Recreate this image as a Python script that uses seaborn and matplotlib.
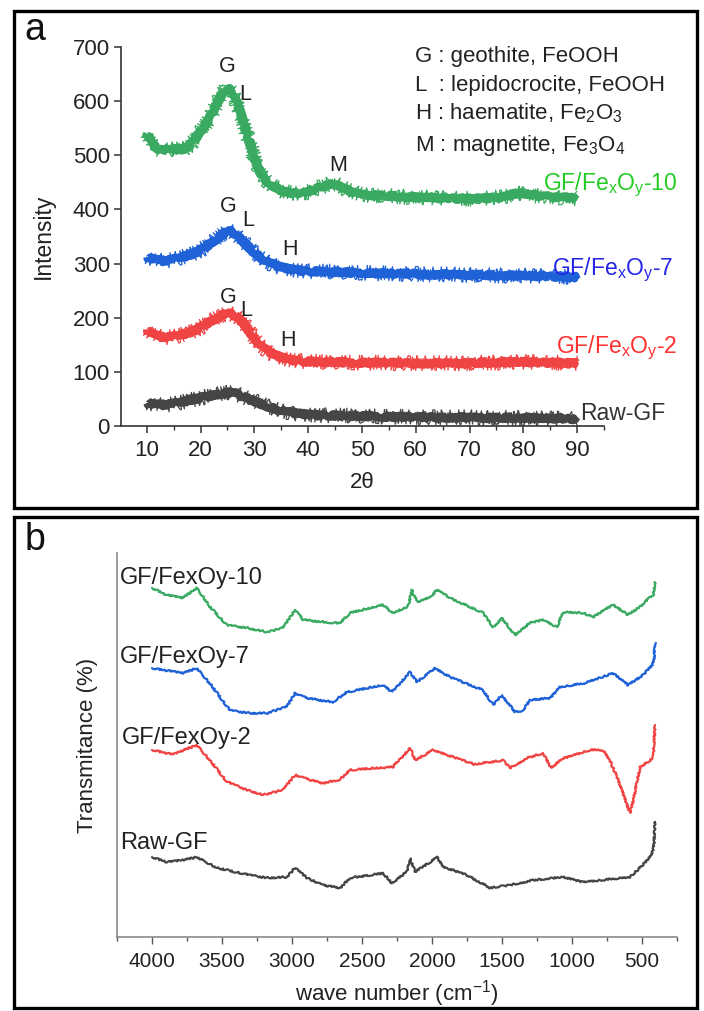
import matplotlib
matplotlib.use("Agg")
import matplotlib.pyplot as plt
from matplotlib.patches import Rectangle
from matplotlib.ticker import MultipleLocator
import pandas as pd
import seaborn as sns

# ---------------- XRD data (panel a) ----------------
two_theta = list(range(10, 91))

xrd_raw = [42, 40, 39, 39, 40, 41, 43, 45, 48, 50,
           52, 54, 56, 58, 60, 62, 62, 58, 54, 50,
           46, 42, 38, 34, 31, 28, 26, 24, 23, 22,
           21, 21, 20, 20, 20, 19, 19, 19, 19, 18,
           18, 18, 18, 18, 17, 17, 17, 17, 17, 17,
           16, 16, 16, 16, 16, 16, 16, 16, 16, 16,
           16, 16, 15, 15, 15, 15, 15, 15, 15, 15,
           15, 15, 15, 14, 14, 14, 14, 14, 13, 13, 13]

xrd_fe2 = [178, 170, 166, 164, 164, 165, 167, 170, 173, 177,
           182, 188, 194, 200, 205, 208, 206, 200, 190, 176,
           162, 150, 142, 135, 130, 127, 124, 122, 121, 120,
           119, 119, 118, 118, 118, 118, 118, 117, 117, 117,
           117, 117, 117, 117, 117, 117, 116, 116, 116, 116,
           116, 116, 116, 116, 116, 116, 116, 116, 116, 116,
           116, 116, 117, 117, 117, 117, 118, 118, 118, 118,
           118, 118, 118, 117, 117, 117, 117, 117, 116, 116, 116]

xrd_fe7 = [312, 308, 306, 305, 306, 308, 310, 313, 316, 320,
           325, 331, 338, 346, 354, 360, 358, 350, 340, 330,
           320, 312, 305, 300, 296, 293, 291, 289, 288, 287,
           286, 286, 285, 285, 285, 284, 284, 284, 283, 283,
           283, 283, 282, 282, 282, 282, 281, 281, 281, 281,
           281, 280, 280, 280, 280, 280, 280, 280, 279, 279,
           279, 279, 279, 279, 278, 278, 278, 278, 278, 278,
           278, 277, 277, 277, 277, 276, 276, 276, 276, 275, 275]

xrd_fe10 = [540, 520, 512, 508, 510, 512, 510, 512, 518, 530,
            545, 558, 575, 595, 615, 625, 615, 590, 560, 528,
            495, 470, 455, 447, 440, 435, 432, 430, 430, 430,
            432, 436, 440, 444, 447, 448, 443, 437, 433, 430,
            428, 427, 426, 426, 425, 425, 424, 424, 423, 423,
            423, 422, 422, 422, 421, 421, 421, 420, 420, 420,
            420, 420, 420, 421, 421, 422, 423, 425, 428, 430,
            430, 428, 426, 425, 424, 424, 423, 422, 422, 421, 421]

xrd_names = ["Raw-GF", "GF/Fe$_x$O$_y$-2", "GF/Fe$_x$O$_y$-7", "GF/Fe$_x$O$_y$-10"]

# ---------------- FTIR data (panel b) ----------------
ftir_fe10_wn = [4000, 3893, 3780, 3680, 3586, 3464, 3321, 3179, 3064, 2979,
                2920, 2707, 2657, 2586, 2350, 2286, 2171, 2143, 2107, 2014,
                1964, 1871, 1636, 1564, 1500, 1407, 1300, 1207, 1107, 1064,
                921, 850, 707, 600, 514, 443, 420, 407]
ftir_fe10 = [90.9, 89.0, 88.3, 90.9, 86.0, 81.2, 80.5, 79.4, 80.5, 85.2,
             82.6, 81.8, 81.8, 84.4, 86.5, 84.4, 86.0, 90.4, 87.2, 88.5,
             90.4, 88.3, 84.4, 80.7, 83.0, 78.6, 81.8, 82.6, 80.7, 84.6,
             84.4, 83.3, 86.5, 83.9, 86.0, 88.5, 89.0, 92.4]

ftir_fe7_wn = [4000, 3780, 3680, 3586, 3443, 3300, 3179, 3036, 2979, 2893,
               2707, 2607, 2350, 2286, 2157, 2107, 1979, 1871, 1636, 1564,
               1500, 1407, 1350, 1300, 1157, 1086, 921, 707, 600, 493,
               429, 415, 407]
ftir_fe7 = [70.0, 68.7, 70.0, 66.0, 59.0, 58.3, 58.3, 60.0, 63.5, 62.2,
            61.2, 63.8, 65.6, 63.8, 69.0, 66.4, 70.0, 67.7, 64.3, 60.4,
            63.0, 58.6, 59.0, 61.7, 62.2, 65.1, 66.0, 68.7, 65.6, 68.2,
            70.8, 72.0, 76.6]

ftir_fe2_wn = [4000, 3850, 3680, 3586, 3464, 3321, 3207, 3064, 2979, 2871,
               2779, 2657, 2586, 2279, 2157, 2120, 1993, 1700, 1493, 1443,
               1321, 1207, 1150, 1064, 871, 779, 729, 679, 586, 560,
               514, 443, 420, 407]
ftir_fe2 = [48.7, 47.5, 50.0, 46.0, 40.4, 38.3, 37.0, 38.3, 42.2, 40.9,
            40.1, 41.0, 43.5, 44.3, 49.2, 46.0, 48.7, 45.0, 46.0, 44.0,
            46.6, 47.9, 44.0, 46.5, 48.7, 48.7, 46.0, 41.7, 32.3, 36.0,
            44.3, 46.0, 47.0, 55.2]

ftir_raw_wn = [4000, 3893, 3780, 3680, 3536, 3300, 3179, 3036, 2979, 2893,
               2779, 2657, 2586, 2350, 2286, 2179, 2157, 2121, 2014, 1964,
               1921, 1750, 1586, 1443, 1279, 1064, 921, 586, 493, 429,
               415, 407]
ftir_raw = [20.8, 19.5, 20.0, 20.8, 18.0, 16.1, 15.4, 15.6, 18.0, 15.4,
            13.5, 12.8, 15.4, 16.6, 14.0, 17.0, 20.5, 17.0, 19.5, 20.8,
            18.3, 16.1, 12.8, 13.5, 14.8, 15.6, 14.3, 15.6, 18.8, 21.4,
            24.0, 30.0]

ftir_names = ["GF/FexOy-10", "GF/FexOy-7", "GF/FexOy-2", "Raw-GF"]

# ---------------- style ----------------
sns.set_style("ticks")
plt.rcParams["font.family"] = ["Liberation Sans", "DejaVu Sans"]
plt.rcParams["mathtext.fontset"] = "custom"
plt.rcParams["mathtext.rm"] = "Liberation Sans"
plt.rcParams["mathtext.it"] = "Liberation Sans"
plt.rcParams["mathtext.default"] = "regular"

c_green = "#3aaa62"
c_blue = "#1f62d8"
c_red = "#f04444"
c_gray = "#454545"
lbl_green = "#22cc22"
lbl_blue = "#2626e6"
lbl_red = "#ff3030"
txt_dark = "#222222"

W, H = 704, 1011
fig = plt.figure(figsize=(W / 100, H / 100), dpi=100)


def fx(px):
    return px / W


def fy(py):
    return 1 - py / H


# panel frames
for (x0, y0, x1, y1) in [(14, 11, 697, 508), (14, 517, 697, 1008)]:
    fig.patches.append(Rectangle((fx(x0), fy(y1)), fx(x1 - x0), (y1 - y0) / H,
                                 transform=fig.transFigure, fill=False,
                                 edgecolor="black", linewidth=2.4))

# ---------------- panel a ----------------
ax_a = fig.add_axes([fx(121), fy(426), fx(604 - 121), (426 - 47) / H])
xrd = pd.DataFrame({"two_theta": two_theta, "Raw-GF": xrd_raw, "Fe2": xrd_fe2,
                    "Fe7": xrd_fe7, "Fe10": xrd_fe10})
xrd_cols = [("Raw-GF", c_gray), ("Fe2", c_red), ("Fe7", c_blue), ("Fe10", c_green)]
for col, color in xrd_cols:
    # solid core of the noisy diffraction trace
    sns.lineplot(data=xrd, x="two_theta", y=col, ax=ax_a, color=color, linewidth=5.2,
                 solid_joinstyle="round", solid_capstyle="butt")
    core = ax_a.lines[-1]
    # jagged counting-noise fringe around it
    sns.lineplot(data=xrd, x="two_theta", y=col, ax=ax_a, color=color, linewidth=0.9)
    ax_a.lines[-1].set_sketch_params(scale=7.5, length=0.6, randomness=10)
    core.set_sketch_params(scale=1.8, length=1.0, randomness=6)

ax_a.set_xlim(5.2, 95)
ax_a.set_ylim(0, 700)
ax_a.xaxis.set_minor_locator(MultipleLocator(5))
ax_a.set_xticks(range(10, 91, 10))
ax_a.yaxis.set_major_locator(MultipleLocator(100))
for s in ["top", "right"]:
    ax_a.spines[s].set_visible(False)
for s in ["left", "bottom"]:
    ax_a.spines[s].set_color("#333333")
    ax_a.spines[s].set_linewidth(1.2)
ax_a.tick_params(axis="both", which="major", direction="out", length=5, width=1.1,
                 color="#333333", labelsize=16, labelcolor=txt_dark)
ax_a.tick_params(axis="y", which="major", pad=3)
ax_a.tick_params(axis="x", which="major", pad=5)
ax_a.tick_params(axis="x", which="minor", direction="out", length=3, width=1.0, color="#333333")
ax_a.set_xlabel("2θ", fontsize=16, color=txt_dark, labelpad=8)
ax_a.set_ylabel("Intensity", fontsize=16.5, color=txt_dark, labelpad=13)
ax_a.patch.set_alpha(0)

# series names
for (x, y, txt, col) in [(83.7, 436, xrd_names[3], lbl_green), (85.4, 279, xrd_names[2], lbl_blue),
                         (86.0, 134.5, xrd_names[1], lbl_red), (90.6, 10.5, xrd_names[0], "#333333")]:
    ax_a.text(x, y, txt, fontsize=16.5, color=col, ha="left", va="baseline", clip_on=False)

# phase key
for (y, txt) in [(671.5, "G : geothite, FeOOH"), (618, "L  : lepidocrocite, FeOOH"),
                 (566, "H : haematite, Fe$_2$O$_3$"), (507, "M : magnetite, Fe$_3$O$_4$")]:
    ax_a.text(59.9, y, txt, fontsize=16, color=txt_dark, ha="left", va="baseline")

# phase markers on peaks
for (x, y, t) in [(24.9, 664, "G"), (28.3, 612, "L"), (45.6, 481, "M"),
                  (25.1, 405, "G"), (28.8, 380, "L"), (36.6, 326, "H"),
                  (25.1, 238, "G"), (28.4, 214, "L"), (36.3, 158, "H")]:
    ax_a.text(x, y, t, fontsize=15.5, color=txt_dark, ha="center", va="center")

fig.text(fx(35), fy(30), "a", fontsize=27, ha="center", va="center", color="#111111")

# ---------------- panel b ----------------
ax_b = fig.add_axes([fx(117), fy(937), fx(677 - 117), (937 - 553) / H])
ftir_sets = [(ftir_raw_wn, ftir_raw, c_gray), (ftir_fe2_wn, ftir_fe2, c_red),
             (ftir_fe7_wn, ftir_fe7, c_blue), (ftir_fe10_wn, ftir_fe10, c_green)]
for wn, tr, color in ftir_sets:
    df = pd.DataFrame({"wn": wn, "tr": tr})
    sns.lineplot(data=df, x="wn", y="tr", ax=ax_b, color=color, linewidth=1.6,
                 sort=False, estimator=None)
for ln in ax_b.lines:
    ln.set_sketch_params(scale=0.8, length=3, randomness=4)

ax_b.set_xlim(4250, 250)
ax_b.set_ylim(0, 100)
ax_b.xaxis.set_minor_locator(MultipleLocator(250))
ax_b.set_xticks(range(4000, 499, -500))
ax_b.set_yticks([])
for s in ["top", "right"]:
    ax_b.spines[s].set_visible(False)
for s in ["left", "bottom"]:
    ax_b.spines[s].set_color("#8a8a8a")
    ax_b.spines[s].set_linewidth(1.2)
ax_b.tick_params(axis="x", which="major", direction="out", length=5, width=1.0,
                 color="#555555", labelsize=15, labelcolor=txt_dark, pad=6)
ax_b.tick_params(axis="x", which="minor", direction="out", length=3, width=1.0, color="#555555")
ax_b.set_xlabel("wave number (cm$^{-1}$)", fontsize=16, color=txt_dark, labelpad=5)
ax_b.set_ylabel("Transmitance (%)", fontsize=16, color=txt_dark, labelpad=14)
ax_b.patch.set_alpha(0)

for (x, y, txt) in [(4229, 93.5, ftir_names[0]), (4229, 72.9, ftir_names[1]),
                    (4214, 51.8, ftir_names[2]), (4229, 24.5, ftir_names[3])]:
    ax_b.text(x, y, txt, fontsize=17, color=txt_dark, ha="left", va="center")

fig.text(fx(35), fy(540), "b", fontsize=27, ha="center", va="center", color="#111111")

fig.savefig("out.png", dpi=100, facecolor="white")
